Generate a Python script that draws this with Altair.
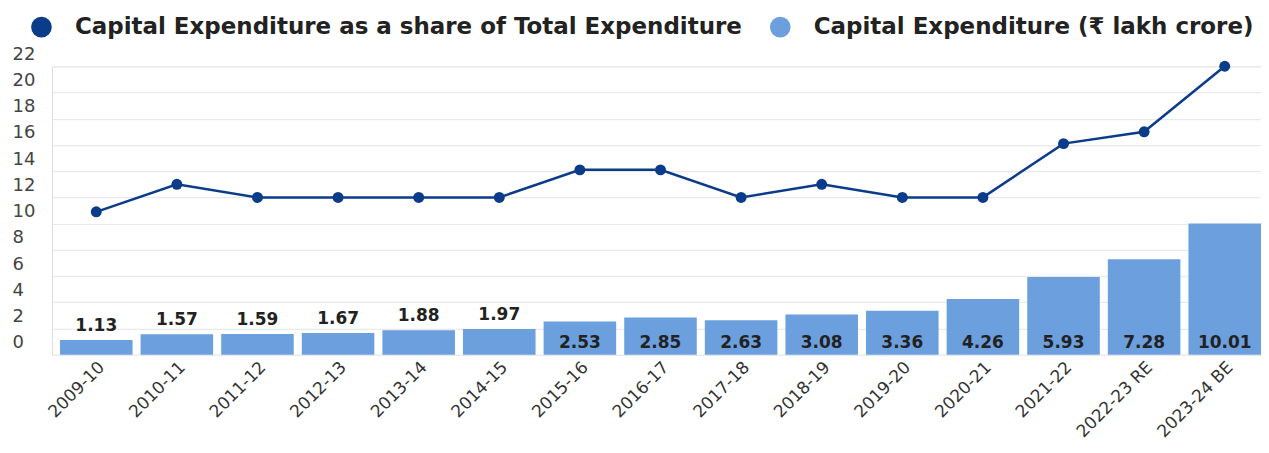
import altair as alt
import pandas as pd

years = ["2009-10", "2010-11", "2011-12", "2012-13", "2013-14", "2014-15", "2015-16",
         "2016-17", "2017-18", "2018-19", "2019-20", "2020-21", "2021-22",
         "2022-23 RE", "2023-24 BE"]
capex = [1.13, 1.57, 1.59, 1.67, 1.88, 1.97, 2.53, 2.85, 2.63, 3.08, 3.36, 4.26, 5.93, 7.28, 10.01]
share = [10.9, 13.0, 12.0, 12.0, 12.0, 12.0, 14.1, 14.1, 12.0, 13.0, 12.0, 12.0, 16.1, 17.0, 22.0]
y_ticks = [0, 2, 4, 6, 8, 10, 12, 14, 16, 18, 20, 22]

SHARE_NAME = "Capital Expenditure as a share of Total Expenditure"
CAPEX_NAME = "Capital Expenditure (₹ lakh crore)"
DARK = "#0b3c8a"
LIGHT = "#6b9fdd"
FONT = "DejaVu Sans"

df = pd.DataFrame({"year": years, "capex": capex, "share": share})
df["label"] = df["capex"].map(lambda v: f"{v:.2f}")

x_scale = alt.Scale(paddingInner=0.1, paddingOuter=0.05, align=1)
x_axis = alt.Axis(labelAngle=-45, labelFontSize=17, labelColor="#333333",
                  labelFont=FONT, domain=False, ticks=False, labelPadding=4,
                  labelOverlap=False, labelLimit=0)
y_scale = alt.Scale(domain=[0, 22], nice=False, zero=True)
y_axis = alt.Axis(values=y_ticks, title=None, grid=True, gridColor="#e9e9e9", gridWidth=1.2,
                  domain=False, ticks=False, labelAlign="left", labelPadding=40,
                  labelOffset=-12, labelFontSize=18, labelColor="#444444", labelFont=FONT,
                  labelOverlap=False, labelFlush=False, labelBound=False)


def xe():
    return alt.X("year:N", sort=years, title=None, scale=x_scale, axis=x_axis)


def ye(field):
    return alt.Y(field, title=None, scale=y_scale, axis=y_axis)


color_scale = alt.Scale(domain=[SHARE_NAME, CAPEX_NAME], range=[DARK, LIGHT])
legend = alt.Legend(orient="none", legendX=-22, legendY=-51, direction="horizontal",
                    title=None, symbolType="circle", symbolSize=430, symbolStrokeWidth=0,
                    labelFontSize=23, labelFont=FONT, labelFontWeight="bold",
                    labelColor="#222222", labelOffset=22, columnPadding=26,
                    symbolOpacity=1, labelLimit=0)

base = alt.Chart(df)

bars = base.mark_bar().encode(
    x=xe(), y=ye("capex:Q"),
    color=alt.Color("series:N", scale=color_scale, legend=legend),
).transform_calculate(series=f"'{CAPEX_NAME}'")

lbl_above = base.transform_filter("datum.capex < 2.5").mark_text(
    fontSize=17, fontWeight="bold", font=FONT, color="#222222", baseline="middle", dy=-14
).encode(x=xe(), y=ye("capex:Q"), text="label:N")

lbl_inside = base.transform_filter("datum.capex >= 2.5").mark_text(
    fontSize=17, fontWeight="bold", font=FONT, color="#222222", baseline="middle", dy=-12
).encode(x=xe(), y=alt.datum(0, scale=y_scale, axis=y_axis, title=None), text="label:N")

line = base.mark_line(color=DARK, strokeWidth=2.5).encode(x=xe(), y=ye("share:Q"))

pts = base.mark_circle(size=120, opacity=1).encode(
    x=xe(), y=ye("share:Q"),
    color=alt.Color("series:N", scale=color_scale, legend=legend),
).transform_calculate(series=f"'{SHARE_NAME}'")

chart = alt.layer(bars, lbl_above, lbl_inside, line, pts).properties(
    width=1211, height=289,
    autosize=alt.AutoSizeParams(type="none"),
    padding={"left": 44, "top": 58, "right": 0, "bottom": 90},
).configure_view(stroke=None).configure(font=FONT)

chart.save("out.html", embed_options={"renderer": "svg", "actions": False})
